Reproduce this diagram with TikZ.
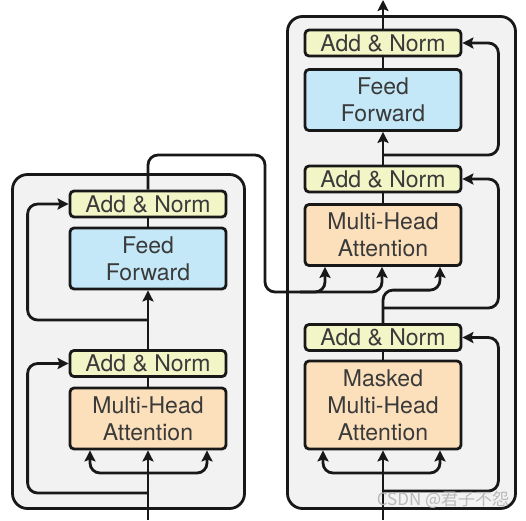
\documentclass[tikz,border=0pt]{standalone}
\usepackage{fontspec}
\setmainfont{TeX Gyre Heros}
\newfontfamily\cjkfont{Noto Sans CJK SC}
\usetikzlibrary{arrows.meta}

\definecolor{normfill}{RGB}{242,245,198}
\definecolor{fffill}{RGB}{196,232,247}
\definecolor{attnfill}{RGB}{252,224,188}
\definecolor{blockfill}{RGB}{242,242,242}
\definecolor{inkcol}{RGB}{24,24,24}
\definecolor{textcol}{RGB}{58,58,58}

\begin{document}
\begin{tikzpicture}[x=1pt, y=-1pt,
  unitbox/.style={draw=inkcol, line width=2.8pt, rounded corners=4pt, minimum width=156pt,
    inner sep=0pt, align=center, text=textcol, font={\fontsize{23}{27}\selectfont}},
  normbox/.style={unitbox, fill=normfill, minimum height=26pt},
  ffbox/.style={unitbox, fill=fffill, minimum height=61pt},
  attnbox/.style={unitbox, fill=attnfill, minimum height=61pt},
  blockbg/.style={draw=inkcol, line width=2.8pt, fill=blockfill, rounded corners=15pt},
  link/.style={draw=inkcol, line width=2.8pt, rounded corners=10pt},
  flow/.style={link, -{Stealth[length=11pt, width=11pt, inset=2pt]}}]
\useasboundingbox (0,0) rectangle (526,520);

% the two blocks
\draw[blockbg] (12.5,174.5) rectangle (244.5,508.5);
\draw[blockbg] (287.5,16.5) rectangle (515.5,508.5);

% encoder
\node[attnbox] (encattn) at (148,418.5) {Multi-Head\\Attention};
\node[normbox] (encnorm1) at (148,363.5) {Add \& Norm};
\node[ffbox] (encff) at (148,258.5) {Feed\\Forward};
\node[normbox] (encnorm2) at (148,204) {Add \& Norm};

% decoder
\node[attnbox, minimum height=88pt] (decmask) at (383,405) {Masked\\Multi-Head\\Attention};
\node[normbox] (decnorm1) at (383,337.5) {Add \& Norm};
\node[attnbox] (decattn) at (383,235) {Multi-Head\\Attention};
\node[normbox] (decnorm2) at (383,179) {Add \& Norm};
\node[ffbox] (decff) at (383,100) {Feed\\Forward};
\node[normbox] (decnorm3) at (383,43) {Add \& Norm};

\coordinate (encin) at (148,520);
\coordinate (encsplit) at (148,473);
\coordinate (encres1) at (148,493);
\coordinate (encres2) at (148,320);
\coordinate (encturn) at (265,155);
\coordinate (encbus) at (265,292);
\coordinate (encfork) at (300,292);

\coordinate (decin) at (383,520);
\coordinate (decsplit) at (383,473);
\coordinate (decres1) at (383,491);
\coordinate (decres2) at (383,308);
\coordinate (decres3) at (383,155);
\coordinate (decout) at (383,0);

% encoder links
\draw[flow] (encin) -- (encattn.south);
\draw[flow] (encsplit) -| ([xshift=-58pt]encattn.south);
\draw[flow] (encsplit) -| ([xshift=59pt]encattn.south);
\draw[flow] (encres1) -| ([xshift=-41pt]encnorm1.west) -- (encnorm1.west);
\draw[link] (encattn) -- (encnorm1);
\draw[flow] (encnorm1) -- (encff);
\draw[flow] (encres2) -| ([xshift=-41pt]encnorm2.west) -- (encnorm2.west);
\draw[link] (encff) -- (encnorm2);
\draw[flow] (encnorm2.north) |- (encturn) -- (encbus) -| ([xshift=-58pt]decattn.south);
\draw[flow] (encfork) -| ([xshift=-1pt]decattn.south);

% decoder links
\draw[flow] (decin) -- (decmask.south);
\draw[flow] (decsplit) -| ([xshift=-60pt]decmask.south);
\draw[flow] (decsplit) -| ([xshift=57pt]decmask.south);
\draw[flow] (decres1) -| ([xshift=36pt]decnorm1.east) -- (decnorm1.east);
\draw[link] (decmask) -- (decnorm1);
\draw[flow] (decnorm1.north) -- ++(0,-33) -| ([xshift=57pt]decattn.south);
\draw[flow] (decres2) -| ([xshift=36pt]decnorm2.east) -- (decnorm2.east);
\draw[link] (decattn) -- (decnorm2);
\draw[flow] (decnorm2) -- (decff);
\draw[flow] (decres3) -| ([xshift=36pt]decnorm3.east) -- (decnorm3.east);
\draw[link] (decff) -- (decnorm3);
\draw[flow] (decnorm3) -- (decout);

\node[font={\cjkfont\fontsize{17}{17}\selectfont}, text=gray!55] (mark) at (443,500) {CSDN @君子不怨};
\end{tikzpicture}
\end{document}
